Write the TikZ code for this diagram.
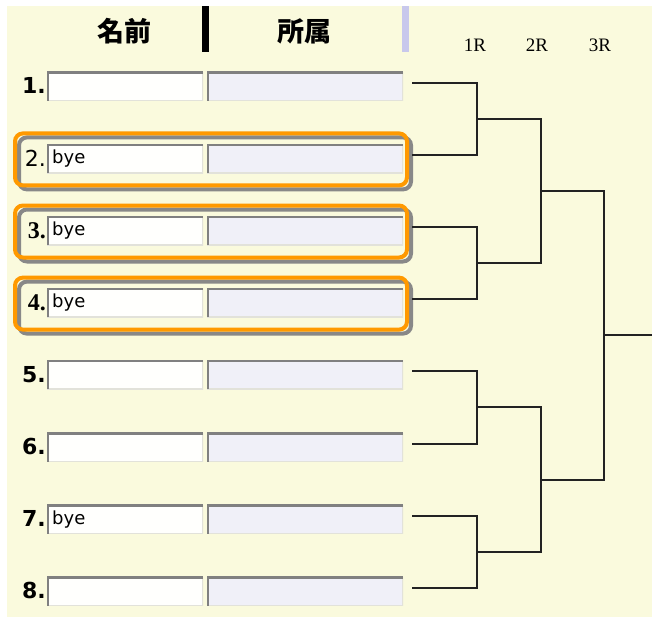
\documentclass[tikz,border=0pt]{standalone}
\usepackage{fontspec}
\newfontfamily\cjk{Noto Sans CJK JP}
\newfontfamily\numfont{DejaVu Sans}
\newfontfamily\serfont{Liberation Serif}
\definecolor{bgyellow}{HTML}{FAFADD}
\definecolor{namefill}{HTML}{FFFFFD}
\definecolor{afffill}{HTML}{F0F0F8}
\definecolor{darkedge}{HTML}{808080}
\definecolor{lightedge}{HTML}{E2E2DA}
\definecolor{hlorange}{HTML}{FF9900}
\definecolor{hlgray}{HTML}{888888}
\definecolor{lavbar}{HTML}{C8C8EC}
\definecolor{bline}{HTML}{222222}
\begin{document}
\begin{tikzpicture}[x=1pt,y=-1pt,
  sunken/.style={rectangle, inner sep=0pt, outer sep=0pt, minimum height=29pt,
    path picture={
      \draw[lightedge,line width=2pt] (path picture bounding box.south west) -| (path picture bounding box.north east);
      \draw[darkedge,line width=4pt] (path picture bounding box.south west) |- (path picture bounding box.north east);
    }},
  namefield/.style={sunken, fill=namefill, minimum width=156pt},
  afffield/.style={sunken, fill=afffill, minimum width=196pt},
  numlabel/.style={anchor=base east, inner sep=0pt, font=\numfont\bfseries\fontsize{22}{22}\selectfont},
  byelabel/.style={anchor=base west, inner sep=0pt, font=\numfont\fontsize{18}{18}\selectfont},
  hlbox/.style={rectangle, rounded corners=8pt, line width=4pt, minimum width=392pt, minimum height=52pt, inner sep=0pt},
  header/.style={inner sep=0pt, font=\cjk\bfseries\fontsize{27}{27}\selectfont},
  roundlabel/.style={inner sep=0pt, font=\serfont\fontsize{19}{19}\selectfont},
  bracket/.style={draw=bline, line width=2pt}
]
\useasboundingbox (0,0) rectangle (652,623);
\fill[bgyellow] (7,6) rectangle (652,617);

% header
\node[header] (hname) at (124,31.5) {名前};
\node[header] (haff) at (304,31.5) {所属};
\fill[black] (202,6) rectangle (209,52);
\fill[lavbar] (402,6) rectangle (409,52);
\node[roundlabel] (r1lab) at (475,45) {1R};
\node[roundlabel] (r2lab) at (537,45) {2R};
\node[roundlabel] (r3lab) at (600,45) {3R};

% highlight boxes (rows 2-4)
\foreach \i in {2,3,4}{
  \pgfmathsetmacro\yc{83+72.1*(\i-1)+3.5+0.8}
  \node[hlbox, draw=hlgray] (s\i) at (215,\yc+4) {};
  \node[hlbox, draw=hlorange] (h\i) at (211,\yc) {};
}

% rows
\foreach \i in {1,...,8}{
  \pgfmathsetmacro\L{83+72.1*(\i-1)}
  \pgfmathsetmacro\fc{\L+3.5}
  \node[namefield] (n\i) at (125,\fc) {};
  \node[afffield] (a\i) at (305,\fc) {};
  \coordinate (r\i) at (412,\L);
}

% numbers
\node[numlabel] (num1) at (46,86.5+7.5) {1.};
\node[numlabel, font=\numfont\fontsize{22}{22}\selectfont] (num2) at (46,158.6+7.5) {2.};
\node[numlabel, font=\serfont\bfseries\fontsize{24}{24}\selectfont] (num3) at (46,230.7+7.5) {3.};
\node[numlabel, font=\serfont\bfseries\fontsize{24}{24}\selectfont] (num4) at (46,302.8+7.5) {4.};
\node[numlabel] (num5) at (46,374.9+7.5) {5.};
\node[numlabel] (num6) at (46,447.0+7.5) {6.};
\node[numlabel] (num7) at (46,519.1+7.5) {7.};
\node[numlabel] (num8) at (46,591.2+7.5) {8.};

% bye entries
\node[byelabel] (bye2) at (52,158.6+5) {bye};
\node[byelabel] (bye3) at (52,230.7+5) {bye};
\node[byelabel] (bye4) at (52,302.8+5) {bye};
\node[byelabel] (bye7) at (52,519.1+5) {bye};

% bracket joints
\coordinate (c1) at (477,119.05);
\coordinate (c2) at (477,263.25);
\coordinate (c3) at (477,407.45);
\coordinate (c4) at (477,551.65);
\coordinate (d1) at (541,191.15);
\coordinate (d2) at (541,479.55);
\coordinate (e1) at (604,335.35);
\coordinate (fin) at (652,335.35);

\draw[bracket] (r1) -| (c1) |- (r2);
\draw[bracket] (r3) -| (c2) |- (r4);
\draw[bracket] (r5) -| (c3) |- (r6);
\draw[bracket] (r7) -| (c4) |- (r8);
\draw[bracket] (c1) -| (d1) |- (c2);
\draw[bracket] (c3) -| (d2) |- (c4);
\draw[bracket] (d1) -| (e1) |- (d2);
\draw[bracket] (e1) -- (fin);
\end{tikzpicture}
\end{document}
